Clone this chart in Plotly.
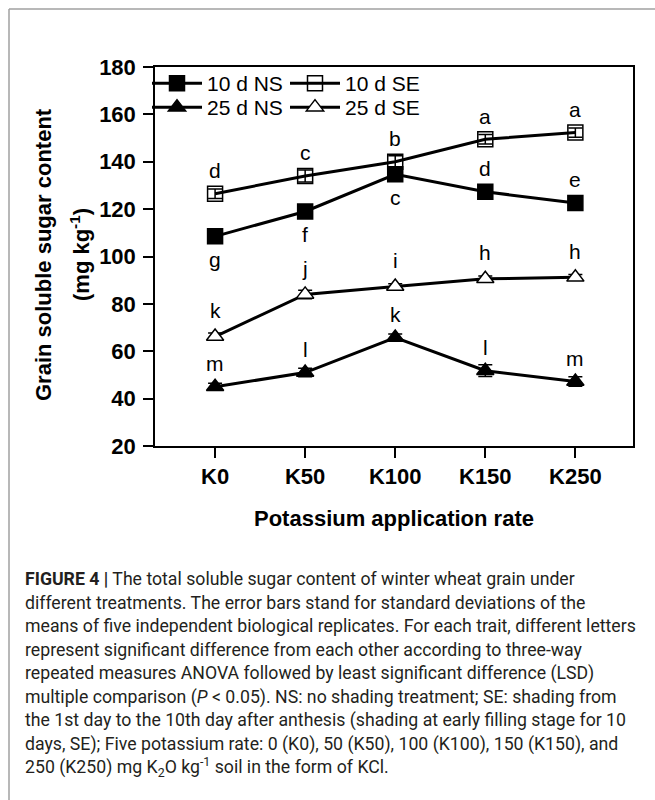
import plotly.graph_objects as go

# ---------------- data ----------------
categories = ["K0", "K50", "K100", "K150", "K250"]

ns10 = [108.5, 119.0, 134.7, 127.3, 122.6]
ns10_err = [1.5, 1.5, 2.0, 1.5, 1.5]
se10 = [126.5, 134.0, 140.0, 149.5, 152.3]
se10_err = [2.0, 2.5, 2.5, 2.0, 2.0]
ns25 = [45.0, 51.0, 65.8, 51.8, 47.2]
ns25_err = [1.5, 1.8, 1.5, 2.5, 2.0]
se25 = [66.2, 84.0, 87.3, 90.6, 91.2]
se25_err = [1.5, 1.8, 1.2, 1.2, 1.2]

ns10_letters = ["g", "f", "c", "d", "e"]
ns10_side = [-1, -1, -1, 1, 1]   # -1 below point, +1 above
se10_letters = ["d", "c", "b", "a", "a"]
ns25_letters = ["m", "l", "k", "l", "m"]
se25_letters = ["k", "j", "i", "h", "h"]

legend_names = ["10 d NS", "10 d SE", "25 d NS", "25 d SE"]

y_title = ["Grain soluble sugar content", "(mg kg<sup>-1</sup>)"]
x_title = "Potassium application rate"

caption_lines = [
    "<b>FIGURE 4 |</b> The total soluble sugar content of winter wheat grain under",
    "different treatments. The error bars stand for standard deviations of the",
    "means of five independent biological replicates. For each trait, different letters",
    "represent significant difference from each other according to three-way",
    "repeated measures ANOVA followed by least significant difference (LSD)",
    "multiple comparison (<i>P</i> &lt; 0.05). NS: no shading treatment; SE: shading from",
    "the 1st day to the 10th day after anthesis (shading at early filling stage for 10",
    "days, SE); Five potassium rate: 0 (K0), 50 (K50), 100 (K100), 150 (K150), and",
    "250 (K250) mg K<sub>2</sub>O kg<sup>-1</sup> soil in the form of KCl.",
]

# ---------------- layout constants ----------------
W, H = 655, 800
ML, MR, MT, MB = 155, 22, 67, 354
PW, PH = W - ML - MR, H - MT - MB


def px_x(px):
    return (px - ML) / PW


def px_y(py):
    return (H - MB - py) / PH


FONT = "Liberation Sans, Arial, sans-serif"
xs = list(range(len(categories)))

fig = go.Figure()


def add_series(y, err, name, symbol, fill, legend):
    fig.add_trace(go.Scatter(
        x=xs, y=y, name=name, mode="lines+markers",
        line=dict(color="black", width=3),
        marker=dict(symbol=symbol, size=15,
                    color=fill, line=dict(color="black", width=1.5)),
        error_y=dict(type="data", array=err, visible=True,
                     color="black", thickness=1.5, width=7),
        legend=legend,
    ))


add_series(ns10, ns10_err, legend_names[0], "square", "black", "legend")
add_series(se10, se10_err, legend_names[1], "square-open", "black", "legend")
add_series(ns25, ns25_err, legend_names[2], "triangle-up", "black", "legend2")
add_series(se25, se25_err, legend_names[3], "triangle-up", "white", "legend2")

annotations = []


def letters(vals, labs, sides, shift):
    for i, (v, t, s) in enumerate(zip(vals, labs, sides)):
        annotations.append(dict(
            x=xs[i], y=v, xref="x", yref="y", text=t, showarrow=False,
            yshift=s * shift, yanchor="middle",
            font=dict(family=FONT, size=21, color="black")))


letters(ns10, ns10_letters, ns10_side, 23)
letters(se10, se10_letters, [1] * 5, 23)
letters(ns25, ns25_letters, [1] * 5, 23)
letters(se25, se25_letters, [1] * 5, 26)

# y title (two lines)
for txt, cx in zip(y_title, [43, 80]):
    annotations.append(dict(
        x=px_x(cx), y=px_y(255), xref="paper", yref="paper", text="<b>" + txt + "</b>",
        showarrow=False, textangle=-90, xanchor="center", yanchor="middle",
        font=dict(family=FONT, size=22, color="black")))

# x title
annotations.append(dict(
    x=px_x(394), y=px_y(518), xref="paper", yref="paper", text="<b>" + x_title + "</b>",
    showarrow=False, xanchor="center", yanchor="middle",
    font=dict(family=FONT, size=22, color="black")))

# caption
for i, line in enumerate(caption_lines):
    annotations.append(dict(
        x=px_x(23), y=px_y(579 + i * 23.6), xref="paper", yref="paper", text=line,
        showarrow=False, xanchor="left", yanchor="middle", align="left",
        font=dict(family="Roboto, Liberation Sans, sans-serif", size=17.7, color="#231f20")))

shapes = [
    dict(type="line", xref="paper", yref="paper", x0=px_x(9), x1=px_x(9),
         y0=px_y(9), y1=px_y(800), line=dict(color="#a0a0a0", width=1.5)),
    dict(type="line", xref="paper", yref="paper", x0=px_x(9), x1=px_x(655),
         y0=px_y(9), y1=px_y(9), line=dict(color="#a0a0a0", width=1.5)),
]

legend_common = dict(xanchor="left", yanchor="top", orientation="h",
                     bgcolor="rgba(0,0,0,0)", itemwidth=50, entrywidth=73,
                     font=dict(family=FONT, size=21, color="black"))

fig.update_layout(
    width=W, height=H,
    margin=dict(l=ML, r=MR, t=MT, b=MB),
    paper_bgcolor="white", plot_bgcolor="white",
    font=dict(family=FONT, color="black"),
    annotations=annotations, shapes=shapes,
    legend=dict(x=px_x(147), y=px_y(63), **legend_common),
    legend2=dict(x=px_x(147), y=px_y(87), **legend_common),
)

fig.update_xaxes(
    range=[-0.667, 4.64], tickmode="array", tickvals=xs, ticktext=categories,
    showline=True, linecolor="black", linewidth=1.5, mirror=True,
    ticks="outside", ticklen=10, tickwidth=1.5, tickcolor="black",
    showgrid=False, zeroline=False,
    tickfont=dict(family=FONT, size=22, color="black", weight="bold"),
)
fig.update_yaxes(
    range=[20, 180], tickmode="linear", tick0=20, dtick=20,
    showline=True, linecolor="black", linewidth=1.5, mirror=True,
    ticks="outside", ticklen=10, tickwidth=1.5, tickcolor="black",
    showgrid=False, zeroline=False, ticklabelstandoff=3,
    tickfont=dict(family=FONT, size=22, color="black", weight="bold"),
)

fig.write_html("out.html")
